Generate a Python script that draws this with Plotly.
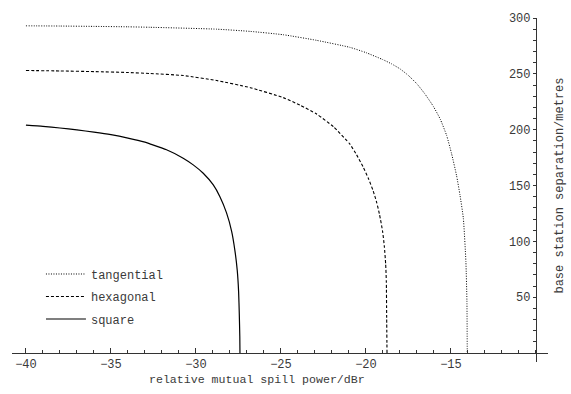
import plotly.graph_objects as go

# data
square_x = [-40.0, -39.0, -38.0, -37.0, -36.0, -35.0, -34.0, -33.0, -32.71, -31.73, -30.75, -30.16, -29.57,
            -28.98, -28.59, -28.20, -27.90, -27.71, -27.57, -27.49, -27.45, -27.42, -27.41]
square_y = [204, 203, 201.5, 199.8, 197.8, 195.5, 192.5, 188.8, 187.3, 182, 174.5, 168.5, 161,
            150.5, 140, 125.5, 109, 92, 74, 55, 35, 15, 0]

hexagonal_x = [-40.0, -38.0, -36.0, -34.0, -32.7, -30.75, -28.78, -26.8, -24.86, -23.88, -22.9, -21.9, -20.94,
               -20.55, -20.16, -19.86, -19.57, -19.37, -19.2, -19.02, -18.92, -18.84, -18.8, -18.78, -18.76]
hexagonal_y = [253, 252.6, 252, 251.2, 250.3, 248.5, 244, 237.6, 228.7, 222, 214, 202.5, 187,
               177.5, 166.5, 156.5, 145, 135, 124, 109, 96, 80, 64, 32, 0]

tangential_x = [-40.0, -38.0, -36.0, -34.0, -32.7, -28.78, -26.8, -24.86, -22.9, -20.94, -20.0, -19.0, -18.5,
                -18.0, -17.5, -17.0, -16.53, -16.04, -15.63, -15.25, -14.96, -14.67, -14.47, -14.27, -14.12,
                -14.06, -14.04]
tangential_y = [293, 292.8, 292.5, 292.1, 291.7, 290, 288, 285, 280, 273.7, 269, 262.7, 259,
                254.5, 248.5, 241, 232, 221, 209.5, 194.7, 178.4, 159, 141.7, 120.7, 82,
                47, 0]

x_ticks = [-40, -35, -30, -25, -20, -15]
x_minor_step = 1
y_ticks = [50, 100, 150, 200, 250, 300]
y_minor = [10, 20, 30, 40, 60, 70, 80, 90, 110, 120, 130, 140, 160, 170, 180, 190,
           210, 220, 230, 240, 260, 270, 280, 290]

x_title = "relative mutual spill power/dBr"
y_title = "base station separation/metres"

FONT = "Liberation Mono"
TXT = "#3a3a3a"

fig = go.Figure()
fig.add_trace(go.Scatter(x=tangential_x, y=tangential_y, mode="lines", name="tangential", legendgroup="t",
                         line=dict(color="black", width=1, dash="1px,1.5px", shape="spline", smoothing=0.5)))
fig.add_trace(go.Scatter(x=hexagonal_x, y=hexagonal_y, mode="lines", name="hexagonal", legendgroup="h",
                         line=dict(color="black", width=1.1, dash="3px,2px", shape="spline", smoothing=0.5)))
fig.add_trace(go.Scatter(x=square_x, y=square_y, mode="lines", name="square", legendgroup="s",
                         line=dict(color="black", width=1.2, shape="spline", smoothing=0.5)))

xr = [-40.82, -9.29]
yr = [-8, 300]

all_y = sorted(y_ticks + y_minor)
y_text = [str(v) if v in y_ticks else "" for v in all_y]

fig.update_layout(
    width=571, height=394,
    margin=dict(l=12, r=23, t=15, b=32),
    paper_bgcolor="white", plot_bgcolor="white",
    font=dict(family=FONT, size=12, color=TXT),
    showlegend=True,
    legend=dict(x=0.054, y=0.298, xanchor="left", yanchor="top", bgcolor="rgba(0,0,0,0)",
                font=dict(family=FONT, size=12, color=TXT), tracegroupgap=3.5, itemwidth=40,
                traceorder="grouped"),
    xaxis=dict(range=xr, showgrid=False, zeroline=False, showline=True, linecolor="#333", linewidth=1,
               anchor="free", position=(0 - yr[0]) / (yr[1] - yr[0]),
               tickmode="array", tickvals=x_ticks, ticktext=[str(v).replace("-", "\u2212") for v in x_ticks],
               ticks="inside", ticklen=5, tickcolor="#333", tickwidth=1,
               minor=dict(dtick=x_minor_step, tick0=-40, ticks="inside", ticklen=3, tickcolor="#333", tickwidth=1),
               tickfont=dict(family=FONT, size=12, color=TXT)),
    yaxis=dict(range=yr, showgrid=False, zeroline=False, showline=True, linecolor="#333", linewidth=1,
               anchor="free", side="left", position=(-10 - xr[0]) / (xr[1] - xr[0]),
               tickmode="array", tickvals=all_y, ticktext=y_text,
               ticks="outside", ticklen=3, tickcolor="#333", tickwidth=1,
               tickfont=dict(family=FONT, size=12, color=TXT)),
    annotations=[
        dict(text=x_title, xref="paper", yref="paper", x=(257 - 12) / 536, y=-(380 - 362) / 347,
             xanchor="center", yanchor="middle", showarrow=False, font=dict(family=FONT, size=11.6, color=TXT)),
        dict(text=y_title, xref="paper", yref="paper", x=(560 - 12) / 536, y=(362 - 184) / 347,
             xanchor="center", yanchor="middle", textangle=-90, showarrow=False,
             font=dict(family=FONT, size=12, color=TXT)),
    ],
)

fig.write_html("out.html", config={"displayModeBar": False},
               post_script="document.body.style.margin='0';")
